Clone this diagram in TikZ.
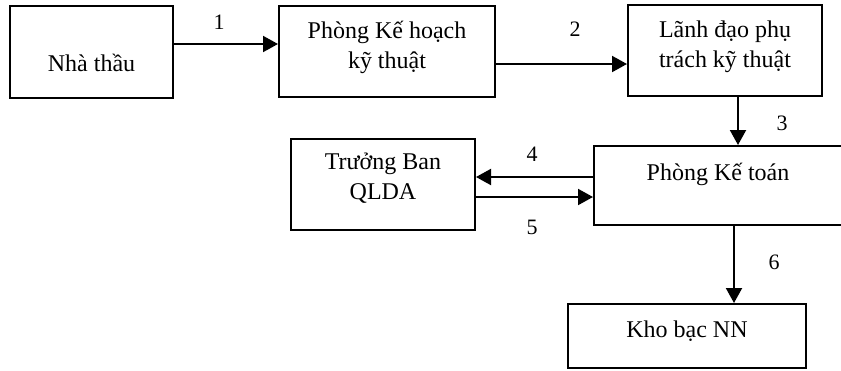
\documentclass[tikz,border=0pt]{standalone}
\usepackage{fontspec}
\setmainfont{Liberation Serif}
\usetikzlibrary{arrows.meta}

\begin{document}
\begin{tikzpicture}
  [x=1pt,y=-1pt,
   box/.style={draw,line width=2pt,inner sep=0pt,align=center,font=\fontsize{24}{30}\selectfont},
   num/.style={inner sep=0pt,font=\fontsize{22}{26}\selectfont},
   arr/.style={line width=2pt,-{Triangle[length=15pt,width=16pt]}}]
  \useasboundingbox (0,0) rectangle (841,370);
  \clip (0,0) rectangle (841,370);
  % boxes
  \node[box,minimum width=163pt,minimum height=92pt,text height=38pt,text depth=0pt] (nt) at (91.5,52) {Nhà thầu};
  \node[box,minimum width=216pt,minimum height=91pt,text height=45pt,text depth=12pt] (kh) at (387,51.5) {Phòng Kế hoạch\\kỹ thuật};
  \node[box,minimum width=194pt,minimum height=91pt,text height=45pt,text depth=12pt] (ld) at (725,50.5) {Lãnh đạo phụ\\trách kỹ thuật};
  \node[box,minimum width=184pt,minimum height=91pt,text height=45pt,text depth=16pt] (tb) at (383,184.5) {Trưởng Ban\\QLDA};
  \node[box,minimum width=248pt,minimum height=79pt,text height=4pt,text depth=15pt] (kt) at (718,185.5) {Phòng Kế toán};
  \node[box,minimum width=238pt,minimum height=64pt,text height=17pt,text depth=15pt] (kb) at (687,336) {Kho bạc NN};
  % arrows
  \draw[arr] ([yshift=8pt]nt.east) -- ([yshift=8pt]nt.east -| kh.west);
  \draw[arr] ([yshift=-12.5pt]kh.east) -- ([yshift=-12.5pt]kh.east -| ld.west);
  \draw[arr] ([xshift=13pt]ld.south) -- ([xshift=13pt]ld.south |- kt.north);
  \draw[arr] ([yshift=8.5pt]kt.west) -- ([yshift=8.5pt]kt.west -| tb.east);
  \draw[arr] ([yshift=-12.5pt]tb.east) -- ([yshift=-12.5pt]tb.east -| kt.west);
  \draw[arr] ([xshift=16pt]kt.south) -- ([xshift=16pt]kt.south |- kb.north);
  % step numbers
  \node[num] (n1) at (219,22) {1};
  \node[num] (n2) at (575,29) {2};
  \node[num] (n3) at (782,123) {3};
  \node[num] (n4) at (532,154) {4};
  \node[num] (n5) at (532,227.5) {5};
  \node[num] (n6) at (774,262) {6};
\end{tikzpicture}
\end{document}
